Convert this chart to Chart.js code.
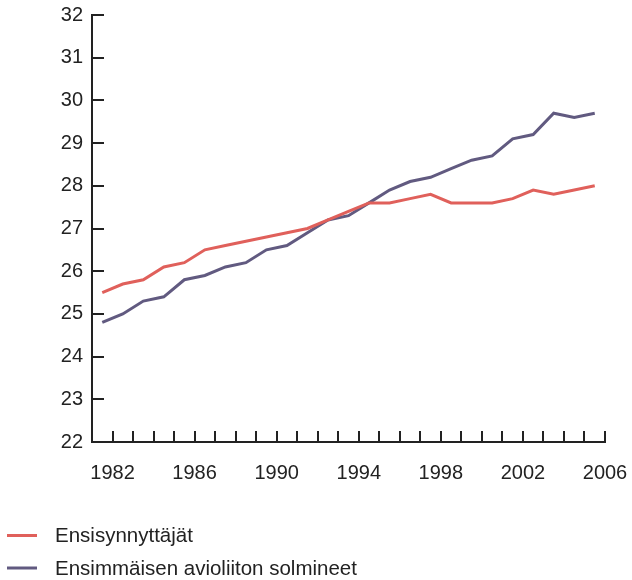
<!DOCTYPE html>
<html>
<head>
<meta charset="utf-8">
<script src="https://cdn.jsdelivr.net/npm/chart.js@4"></script>
<style>
  html, body { margin: 0; padding: 0; background: #fff; }
  #wrap { width: 632px; height: 580px; }
</style>
</head>
<body>
<div id="wrap"><canvas id="myChart"></canvas></div>
<script>
// data
const years = [1981, 1982, 1983, 1984, 1985, 1986, 1987, 1988, 1989, 1990,
  1991, 1992, 1993, 1994, 1995, 1996, 1997, 1998, 1999, 2000,
  2001, 2002, 2003, 2004, 2005];
const ensisynnyttajat = [25.5, 25.7, 25.8, 26.1, 26.2, 26.5, 26.6, 26.7, 26.8, 26.9,
  27.0, 27.2, 27.4, 27.6, 27.6, 27.7, 27.8, 27.6, 27.6, 27.6,
  27.7, 27.9, 27.8, 27.9, 28.0];
const avioliitto = [24.8, 25.0, 25.3, 25.4, 25.8, 25.9, 26.1, 26.2, 26.5, 26.6,
  26.9, 27.2, 27.3, 27.6, 27.9, 28.1, 28.2, 28.4, 28.6, 28.7,
  29.1, 29.2, 29.7, 29.6, 29.7];
const seriesNames = ['Ensisynnyttäjät', 'Ensimmäisen avioliiton solmineet'];
const seriesColors = ['#e0605b', '#615a80'];
const labelYears = [1982, 1986, 1990, 1994, 1998, 2002, 2006];

const FONT = '"Liberation Sans", Arial, sans-serif';
const INK = '#222';

// values are plotted at mid-year
function toPoints(vals) {
  return years.map((y, i) => ({ x: y + 0.5, y: vals[i] }));
}

// ticks drawn inward from the axis lines
const innerTicks = {
  id: 'innerTicks',
  afterDraw(chart) {
    const { ctx, chartArea: { left, bottom } } = chart;
    const xs = chart.scales.x, ys = chart.scales.y;
    ctx.save();
    ctx.strokeStyle = INK;
    ctx.lineWidth = 2;
    ctx.beginPath();
    xs.ticks.forEach(t => {
      if (t.value === xs.min) return;
      const px = Math.round(xs.getPixelForValue(t.value));
      ctx.moveTo(px, bottom);
      ctx.lineTo(px, bottom - 11);
    });
    ys.ticks.forEach(t => {
      if (t.value === ys.min) return;
      const py = Math.round(ys.getPixelForValue(t.value));
      ctx.moveTo(left, py);
      ctx.lineTo(left + 12, py);
    });
    ctx.stroke();
    ctx.restore();
  }
};

// legend stacked in rows under the chart
const rowLegend = {
  id: 'rowLegend',
  afterDraw(chart) {
    const ctx = chart.ctx;
    ctx.save();
    ctx.font = '20.5px ' + FONT;
    ctx.textBaseline = 'middle';
    ctx.textAlign = 'left';
    chart.data.datasets.forEach((ds, i) => {
      const y = 535.5 + i * 32.5;
      ctx.strokeStyle = ds.borderColor;
      ctx.lineWidth = 3;
      ctx.beginPath();
      ctx.moveTo(7, y);
      ctx.lineTo(37, y);
      ctx.stroke();
      ctx.fillStyle = INK;
      ctx.fillText(ds.label, 55, y + 1);
    });
    ctx.restore();
  }
};

const ctx1 = document.getElementById('myChart');
new Chart(ctx1, {
  type: 'line',
  data: {
    datasets: [
      { label: seriesNames[0], data: toPoints(ensisynnyttajat), borderColor: seriesColors[0] },
      { label: seriesNames[1], data: toPoints(avioliitto), borderColor: seriesColors[1] }
    ]
  },
  options: {
    responsive: true,
    maintainAspectRatio: false,
    animation: false,
    layout: { padding: { top: 15, right: 27, bottom: 0, left: 0 } },
    elements: {
      line: { borderWidth: 3, tension: 0 },
      point: { radius: 0 }
    },
    plugins: {
      legend: { display: false },
      tooltip: { enabled: false }
    },
    scales: {
      x: {
        type: 'linear',
        min: years[0],
        max: years[years.length - 1] + 1,
        grid: { display: true, drawOnChartArea: false, drawTicks: false },
        border: { display: true, color: INK, width: 2 },
        ticks: {
          stepSize: 1,
          autoSkip: false,
          maxRotation: 0,
          padding: 19,
          color: INK,
          font: { family: FONT, size: 20 },
          callback: v => labelYears.includes(v) ? String(v) : ''
        },
        afterFit(scale) {
          scale.height = 138;
          scale.paddingLeft = 0;
          scale.paddingRight = 0;
        }
      },
      y: {
        min: 22,
        max: 32,
        grid: { display: true, drawOnChartArea: false, drawTicks: false },
        border: { display: true, color: INK, width: 2 },
        ticks: {
          stepSize: 1,
          padding: 9,
          color: INK,
          font: { family: FONT, size: 20 }
        },
        afterFit(scale) {
          scale.width = 92;
          scale.paddingTop = 0;
          scale.paddingBottom = 0;
        }
      }
    }
  },
  plugins: [innerTicks, rowLegend]
});
</script>
</body>
</html>
